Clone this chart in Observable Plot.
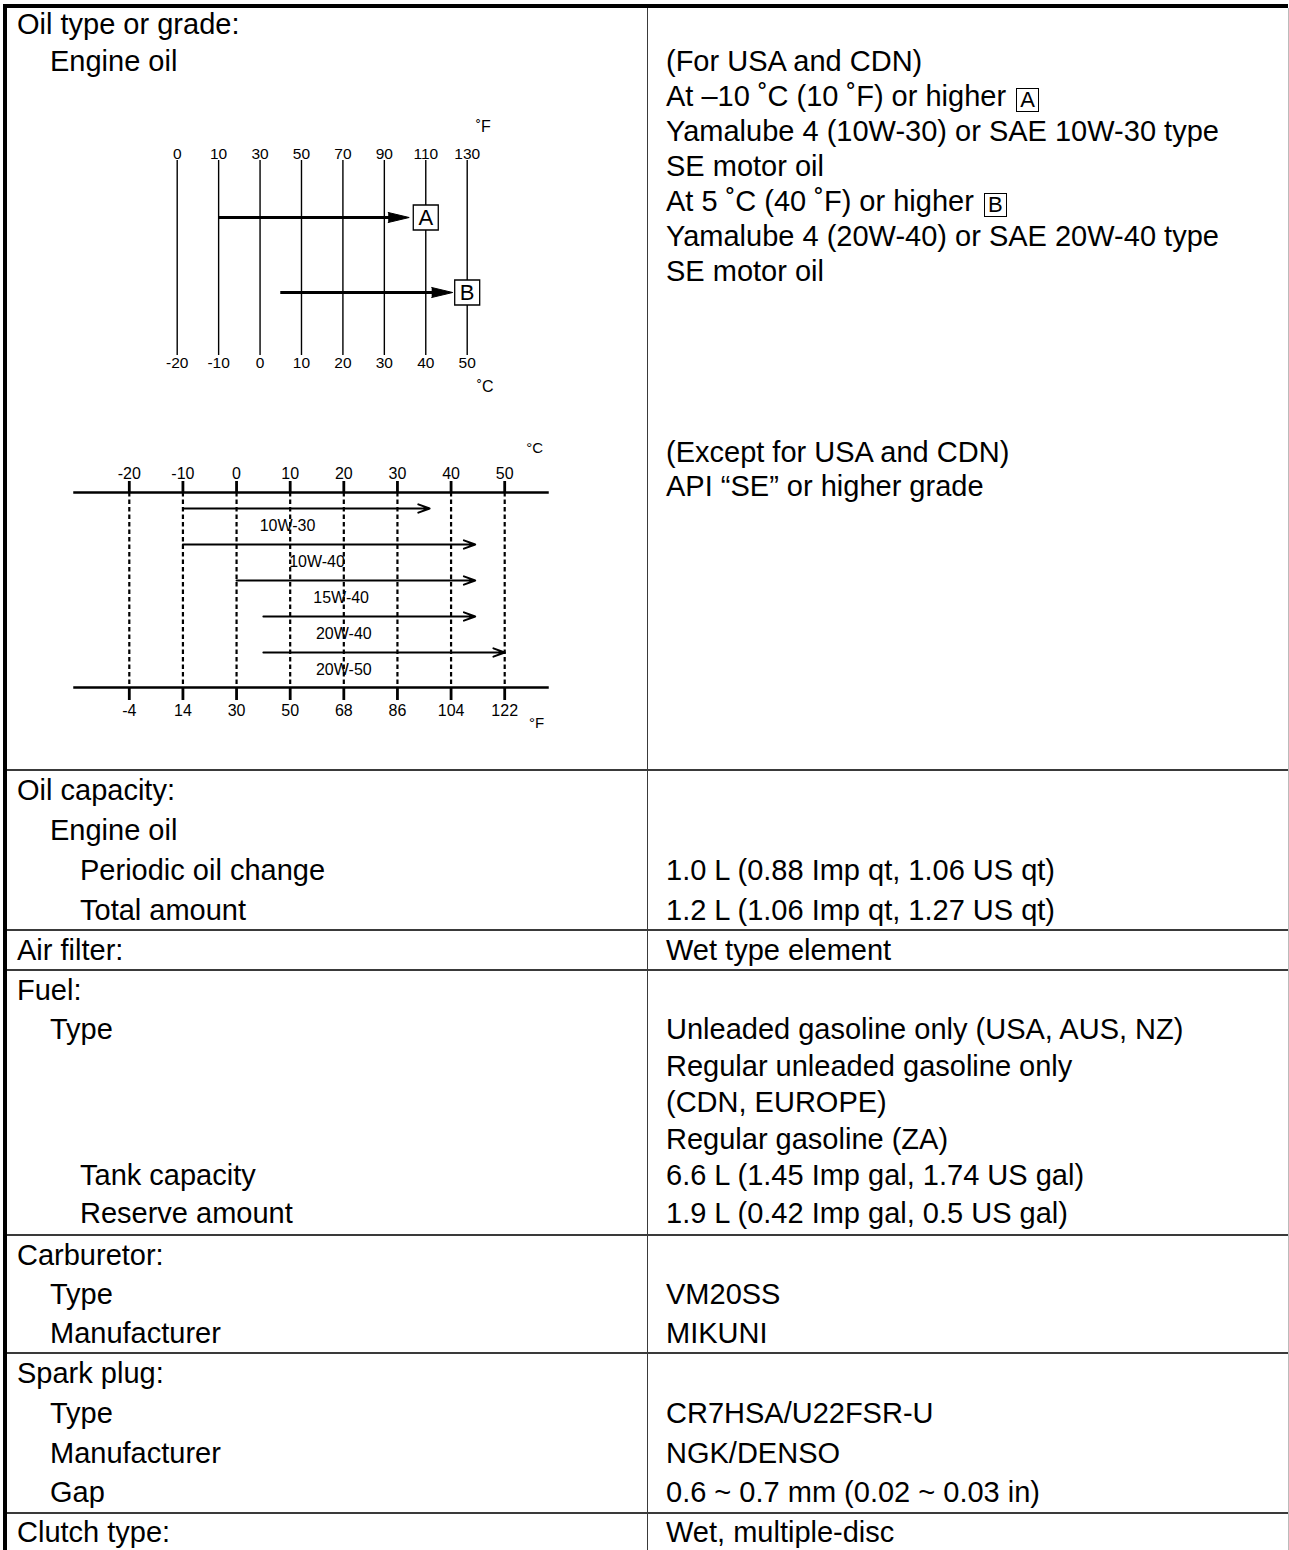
<!DOCTYPE html>
<html><head><meta charset="utf-8">
<script src="https://cdn.jsdelivr.net/npm/d3@7"></script>
<script src="https://cdn.jsdelivr.net/npm/@observablehq/plot@0.6"></script>
<style>
body{margin:0;background:#fff;}
#page{position:relative;width:1289px;height:1550px;overflow:hidden;font-family:"Liberation Sans",Arial,Helvetica,sans-serif;color:#000;background:#fff;}
.t{position:absolute;white-space:nowrap;font-size:29px;line-height:32px;}
.chart{position:absolute;left:0;}
.ln{position:absolute;background:#3a3a3a;}
.box{display:inline-block;box-sizing:border-box;border:1.5px solid #000;font-size:22px;line-height:21px;width:23px;height:24px;text-align:center;vertical-align:-1px;margin-left:2px;}
</style></head><body><div id="page"></div>
<script>
// ---------- Chart 1: engine oil (USA / CDN) ----------
const oilC = [-20, -10, 0, 10, 20, 30, 40, 50];
const oilF = [0, 10, 30, 50, 70, 90, 110, 130];
const usaGrades = ["A", "B"];
const usaFrom = [-10, 5];
const usaTo = [36, 46.5];
const usaBoxAt = [40, 50];

// ---------- Chart 2: engine oil (except USA / CDN) ----------
const scaleC = [-20, -10, 0, 10, 20, 30, 40, 50];
const scaleF = [-4, 14, 30, 50, 68, 86, 104, 122];
const grades = ["10W-30", "10W-40", "15W-40", "20W-40", "20W-50"];
const gradeFrom = [-10, -10, 0, 5, 5];
const gradeTo = [36, 44.5, 44.5, 44.5, 50];
const gradeLabelAt = [9.5, 15, 19.5, 20, 20];

// ---------- Table text ----------
const leftText = ["Oil type or grade:", "Engine oil",
  "Oil capacity:", "Engine oil", "Periodic oil change", "Total amount",
  "Air filter:",
  "Fuel:", "Type", "Tank capacity", "Reserve amount",
  "Carburetor:", "Type", "Manufacturer",
  "Spark plug:", "Type", "Manufacturer", "Gap",
  "Clutch type:"];
const leftLevel = [0, 1, 0, 1, 2, 2, 0, 0, 1, 2, 2, 0, 1, 1, 0, 1, 1, 1, 0];
const rightText = ["(For USA and CDN)", "At \u201310 \u02daC (10 \u02daF) or higher", "Yamalube 4 (10W-30) or SAE 10W-30 type", "SE motor oil",
  "At 5 \u02daC (40 \u02daF) or higher", "Yamalube 4 (20W-40) or SAE 20W-40 type", "SE motor oil",
  "(Except for USA and CDN)", "API \u201cSE\u201d or higher grade",
  "1.0 L (0.88 Imp qt, 1.06 US qt)", "1.2 L (1.06 Imp qt, 1.27 US qt)",
  "Wet type element",
  "Unleaded gasoline only (USA, AUS, NZ)", "Regular unleaded gasoline only", "(CDN, EUROPE)", "Regular gasoline (ZA)",
  "6.6 L (1.45 Imp gal, 1.74 US gal)", "1.9 L (0.42 Imp gal, 0.5 US gal)",
  "VM20SS", "MIKUNI",
  "CR7HSA/U22FSR-U", "NGK/DENSO", "0.6 ~ 0.7 mm (0.02 ~ 0.03 in)",
  "Wet, multiple-disc"];
const rightBox = ["", "A", "", "", "B"];

// ---------- Layout (positions only) ----------
const leftY = [24, 61, 790, 830, 870, 910, 950, 990, 1029, 1175, 1213, 1255, 1294, 1333, 1373, 1413, 1453, 1492, 1532];
const rightY = [61, 96, 131, 166, 201, 236, 271, 452, 486, 870, 910, 950, 1029, 1066, 1102, 1139, 1175, 1213, 1294, 1333, 1413, 1453, 1492, 1532];
const indentX = [17, 50, 80];
const rightX = 666;
const rowRules = [770, 930, 970, 1235, 1353, 1513];
const FONT = '"Liberation Sans", Arial, Helvetica, sans-serif';

const page = document.getElementById("page");

// Chart 1
const usaRows = usaGrades.map((g, i) => ({grade: g, from: usaFrom[i], to: usaTo[i], box: usaBoxAt[i]}));
const chart1 = Plot.plot({
  width: 647, height: 310,
  marginTop: 60, marginBottom: 55, marginLeft: 0, marginRight: 0,
  style: {fontFamily: FONT, background: "transparent", color: "#000", overflow: "visible"},
  x: {domain: [oilC[0], oilC[oilC.length - 1]], range: [176.7, 466.7], axis: null},
  y: {type: "point", domain: usaGrades, range: [117, 192], padding: 0, axis: null},
  marks: [
    Plot.ruleX(oilC, {x: d => d, stroke: "#000", strokeWidth: 1.4}),
    Plot.text(oilC, {x: d => d, text: (d, i) => String(oilF[i]), frameAnchor: "top", dy: -13, fontSize: 15.5}),
    Plot.text(oilC, {x: d => d, text: d => String(d), frameAnchor: "bottom", dy: 12, fontSize: 15.5}),
    Plot.text(["\u02daF"], {x: oilC[oilC.length - 1], text: d => d, frameAnchor: "top", dx: 16, dy: -40, fontSize: 16}),
    Plot.text(["\u02daC"], {x: oilC[oilC.length - 1], text: d => d, frameAnchor: "bottom", dx: 18, dy: 36, fontSize: 16}),
    Plot.ruleY(usaRows, {x1: "from", x2: "to", y: "grade", stroke: "#000", strokeWidth: 3, insetRight: 12}),
    Plot.vector(usaRows, {x: "to", y: "grade", rotate: 90, length: 21, r: 5, shape: "spike", anchor: "end", fill: "#000", stroke: "#000", strokeWidth: 1}),
    Plot.dot(usaRows, {x: "box", y: "grade", symbol: "square", r: 14.1, fill: "white", stroke: "#000", strokeWidth: 1.3}),
    Plot.text(usaRows, {x: "box", y: "grade", text: "grade", fontSize: 22})
  ]
});
const c1 = document.createElement("div"); c1.className = "chart"; c1.style.top = "100px"; c1.appendChild(chart1); page.appendChild(c1);

// Chart 2
const gradeRows = grades.map((g, i) => ({grade: g, from: gradeFrom[i], to: gradeTo[i], labelAt: gradeLabelAt[i]}));
const fOf = new Map(scaleC.map((c, i) => [c, String(scaleF[i])]));
const chart2 = Plot.plot({
  width: 647, height: 300,
  marginTop: 62, marginBottom: 43, marginLeft: 74, marginRight: 100,
  style: {fontFamily: FONT, background: "transparent", color: "#000", overflow: "visible"},
  x: {domain: [scaleC[0], scaleC[scaleC.length - 1]], range: [128.8, 504.2]},
  y: {type: "point", domain: grades, range: [77, 222], padding: 0, axis: null},
  marks: [
    Plot.ruleX(scaleC, {x: d => d, stroke: "#000", strokeWidth: 2.2, strokeDasharray: "4.5,3"}),
    Plot.frame({anchor: "top", stroke: "#000", strokeWidth: 2.5}),
    Plot.frame({anchor: "bottom", stroke: "#000", strokeWidth: 2.5}),
    Plot.axisX(scaleC, {anchor: "top", tickSize: 12, tickPadding: 2, strokeWidth: 2.8, fontSize: 16, tickFormat: d => String(d), label: null}),
    Plot.axisX(scaleC, {anchor: "bottom", tickSize: 13, tickPadding: 4, strokeWidth: 2.8, fontSize: 16, tickFormat: d => fOf.get(d), label: null}),
    Plot.arrow(gradeRows, {x1: "from", x2: "to", y: "grade", stroke: "#000", strokeWidth: 2, headLength: 9, headAngle: 40}),
    Plot.text(gradeRows, {x: "labelAt", y: "grade", text: "grade", dy: 17, fontSize: 16}),
    Plot.text(["\u00b0C"], {x: scaleC[scaleC.length - 1], text: d => d, frameAnchor: "top", dx: 30, dy: -50, fontSize: 15}),
    Plot.text(["\u00b0F"], {x: scaleC[scaleC.length - 1], text: d => d, frameAnchor: "bottom", dx: 32, dy: 40, fontSize: 15})
  ]
});
const c2 = document.createElement("div"); c2.className = "chart"; c2.style.top = "430px"; c2.appendChild(chart2); page.appendChild(c2);

// Table text
function addText(txt, x, cy, box) {
  const d = document.createElement("div");
  d.className = "t";
  d.style.left = x + "px";
  d.style.top = (cy - 16) + "px";
  d.textContent = txt;
  if (box) {
    d.appendChild(document.createTextNode(" "));
    const b = document.createElement("span"); b.className = "box"; b.textContent = box; d.appendChild(b);
  }
  page.appendChild(d);
}
leftText.forEach((t, i) => addText(t, indentX[leftLevel[i]], leftY[i]));
rightText.forEach((t, i) => addText(t, rightX, rightY[i], rightBox[i]));

// Table rules
function addLine(x, y, w, h, color) {
  const d = document.createElement("div"); d.className = "ln";
  Object.assign(d.style, {left: x + "px", top: y + "px", width: w + "px", height: h + "px"});
  if (color) d.style.background = color;
  page.appendChild(d);
}
rowRules.forEach(y => addLine(7, y - 0.75, 1281, 1.5));
addLine(646.5, 8, 1.5, 1542);
addLine(3, 4, 1285, 4, "#000");
addLine(3, 4, 4, 1546, "#000");
addLine(1287.5, 8, 1.5, 1542, "#bbb");
</script></body></html>
